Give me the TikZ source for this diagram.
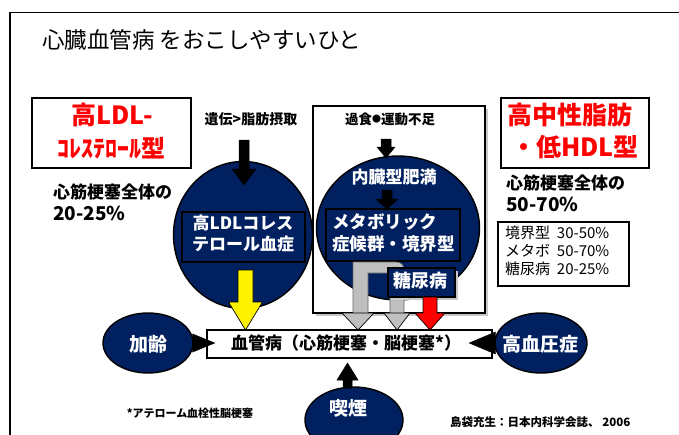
\documentclass[tikz,border=0pt]{standalone}
\usepackage{fontspec}
\setmainfont{Noto Sans CJK JP}
\usetikzlibrary{shapes.geometric}
\definecolor{navy}{RGB}{0,32,96}
\definecolor{lgray}{RGB}{191,191,191}
\definecolor{shadowgray}{RGB}{200,200,200}
\newcommand\myfs[1]{\fontsize{#1}{#1}\selectfont}
\newcommand\dnarr[7]{% style, x, ytop, yheadbase, ytip, shafthalf, headhalf
  \filldraw[#1] (#2-#6,#3) -- (#2+#6,#3) -- (#2+#6,#4) -- (#2+#7,#4) -- (#2,#5) -- (#2-#7,#4) -- (#2-#6,#4) -- cycle;}
\tikzset{
  framebox/.style={draw=black, line width=1.4pt, fill=white},
  navybox/.style={draw=black, line width=1.3pt, fill=navy},
  navyell/.style={ellipse, draw=black, line width=1.4pt, fill=navy, inner sep=0pt},
  wtxt/.style={text=white, font=\bfseries, inner sep=0pt},
  btxt/.style={text=black, font=\bfseries, inner sep=0pt},
  rtxt/.style={text=red, font=\bfseries, inner sep=0pt},
  plain/.style={text=black, inner sep=0pt},
  blackarr/.style={fill=black, draw=black, line width=0.5pt},
  grayhead/.style={fill=lgray, draw=black, line width=0.7pt},
}
\begin{document}
\begin{tikzpicture}[x=1pt,y=-1pt]
\useasboundingbox (0,0) rectangle (679,434);
\fill[white] (0,0) rectangle (679,434);
\draw[line width=1.3pt] (10,450) -- (10,12.5) -- (690,12.5);

% title
\node[plain, anchor=west, font=\myfs{22.5}] (title) at (42,40) {心臓血管病 をおこしやすいひと};

% left label box
\draw[framebox] (32,98) rectangle (191,168);
\node[rtxt, font=\myfs{25}\bfseries] (ldl1) at (112,115) {高LDL-};
\node[rtxt, font=\myfs{24}\bfseries] (ldl2) at (111,148) {ｺﾚｽﾃﾛｰﾙ型};
\node[btxt, anchor=west, font=\myfs{17}\bfseries] (lp1) at (53,192) {心筋梗塞全体の};
\node[btxt, anchor=west, font=\myfs{19}\bfseries] (lp2) at (53,213) {20-25\%};

% right label box
\draw[framebox] (501,98) rectangle (649,168);
\node[rtxt, font=\myfs{25}\bfseries] (tg1) at (570,115) {高中性脂肪};
\node[rtxt, font=\myfs{25}\bfseries] (tg2) at (575,147) {・低HDL型};
\node[btxt, anchor=west, font=\myfs{17}\bfseries] (rp1) at (506,183) {心筋梗塞全体の};
\node[btxt, anchor=west, font=\myfs{19}\bfseries] (rp2) at (506,204) {50-70\%};

% percentage box
\draw[line width=1.3pt, fill=white] (498,222) rectangle (629,286);
\node[plain, anchor=west, font=\myfs{15}] (pc1) at (505,233) {境界型\ \ 30-50\%};
\node[plain, anchor=west, font=\myfs{15}] (pc2) at (505,251) {メタボ\ \ 50-70\%};
\node[plain, anchor=west, font=\myfs{15}] (pc3) at (505,269) {糖尿病\ \ 20-25\%};

% cause labels
\node[btxt, font=\myfs{14}\bfseries] (gen) at (251,119) {遺伝>脂肪摂取};

% middle framed box with shadow
\fill[shadowgray] (316,109) rectangle (488,316);
\draw[line width=1.3pt, fill=white] (313,106) rectangle (485,313);
\node[btxt, font=\myfs{13.5}\bfseries] (over) at (390,119) {過食\raisebox{1.6pt}{\myfs{9}●}運動不足};

% circles
\node[navyell, minimum width=139, minimum height=147] (lcirc) at (243,235) {};
\node[navyell, minimum width=163, minimum height=144] (mcirc) at (398,228) {};

% black arrows
\dnarr{blackarr}{244}{140}{169}{185}{5}{12}
\dnarr{blackarr}{386}{139}{147}{158}{5}{9}
\dnarr{blackarr}{387}{190}{199}{209}{5}{11}

% inner boxes
\draw[navybox] (182,212) rectangle (305,262);
\node[wtxt, font=\myfs{17}\bfseries] (ldlh1) at (243,223) {高LDLコレス};
\node[wtxt, font=\myfs{17}\bfseries] (ldlh2) at (243,244) {テロール血症};
\node[wtxt, font=\myfs{17}\bfseries] (visc) at (394,177) {内臓型肥満};
\draw[navybox] (326,209) rectangle (460,261);
\node[wtxt, anchor=west, font=\myfs{17.5}\bfseries] (met1) at (332,222) {メタボリック};
\node[wtxt, anchor=west, font=\myfs{17.5}\bfseries] (met2) at (332,244) {症候群・境界型};

% gray inverted-U arrow
\filldraw[fill=lgray, draw=gray!80!black, line width=0.6pt]
  (353,314) -- (353,262) -- (396,262) .. controls (401,262) and (404,265) .. (404,270)
  -- (404,314) -- (390,314) -- (390,273) -- (368,273) -- (368,314) -- cycle;
\filldraw[grayhead] (342,313) -- (374,313) -- (358,330) -- cycle;
\filldraw[grayhead] (384,313) -- (410,313) -- (397,330) -- cycle;

% diabetes box
\fill[shadowgray] (391,271) rectangle (458,300);
\draw[navybox] (388,268) rectangle (455,297);
\node[wtxt, font=\myfs{18}\bfseries] (dm) at (420,281) {糖尿病};
\dnarr{fill=red, draw=black, line width=0.7pt}{430}{297}{313}{330}{7}{15}

% yellow arrow
\dnarr{fill=yellow, draw=black, line width=0.7pt}{245.5}{270}{302}{330}{7.5}{17}

% central bar
\draw[line width=1.4pt, fill=white] (207,330) rectangle (492,358);
\node[btxt, font=\myfs{17}\bfseries] (vd) at (346,343) {血管病（心筋梗塞・脳梗塞*）};

% risk ellipses
\node[navyell, minimum width=90, minimum height=60] (age) at (148,343) {};
\node[wtxt, font=\myfs{19}\bfseries] (aget) at (148,344) {加齢};
\node[navyell, minimum width=92, minimum height=60] (htn) at (541,343) {};
\node[wtxt, font=\myfs{19}\bfseries] (htnt) at (540,344) {高血圧症};
\node[navyell, minimum width=98, minimum height=66] (smk) at (354,420) {};
\node[wtxt, font=\myfs{19}\bfseries] (smkt) at (348,408) {喫煙};

% small arrows
\filldraw[blackarr] (age.east) ++(-1,-9) -- ++(22,9) -- ++(-22,9) -- cycle;
\filldraw[blackarr] (htn.west) ++(1,-11) -- ++(-26,11) -- ++(26,11) -- cycle;
\filldraw[blackarr] (343,388) -- (352,388) -- (352,380) -- (358,380) -- (347.5,363) -- (337,380) -- (343,380) -- cycle;

% footnotes
\node[btxt, font=\myfs{11}\bfseries] (fn) at (190,413) {*アテローム血栓性脳梗塞};
\node[btxt, anchor=west, font=\myfs{11.5}\bfseries] (ref) at (450,422) {島袋充生：日本内科学会誌、 2006};
\end{tikzpicture}
\end{document}
